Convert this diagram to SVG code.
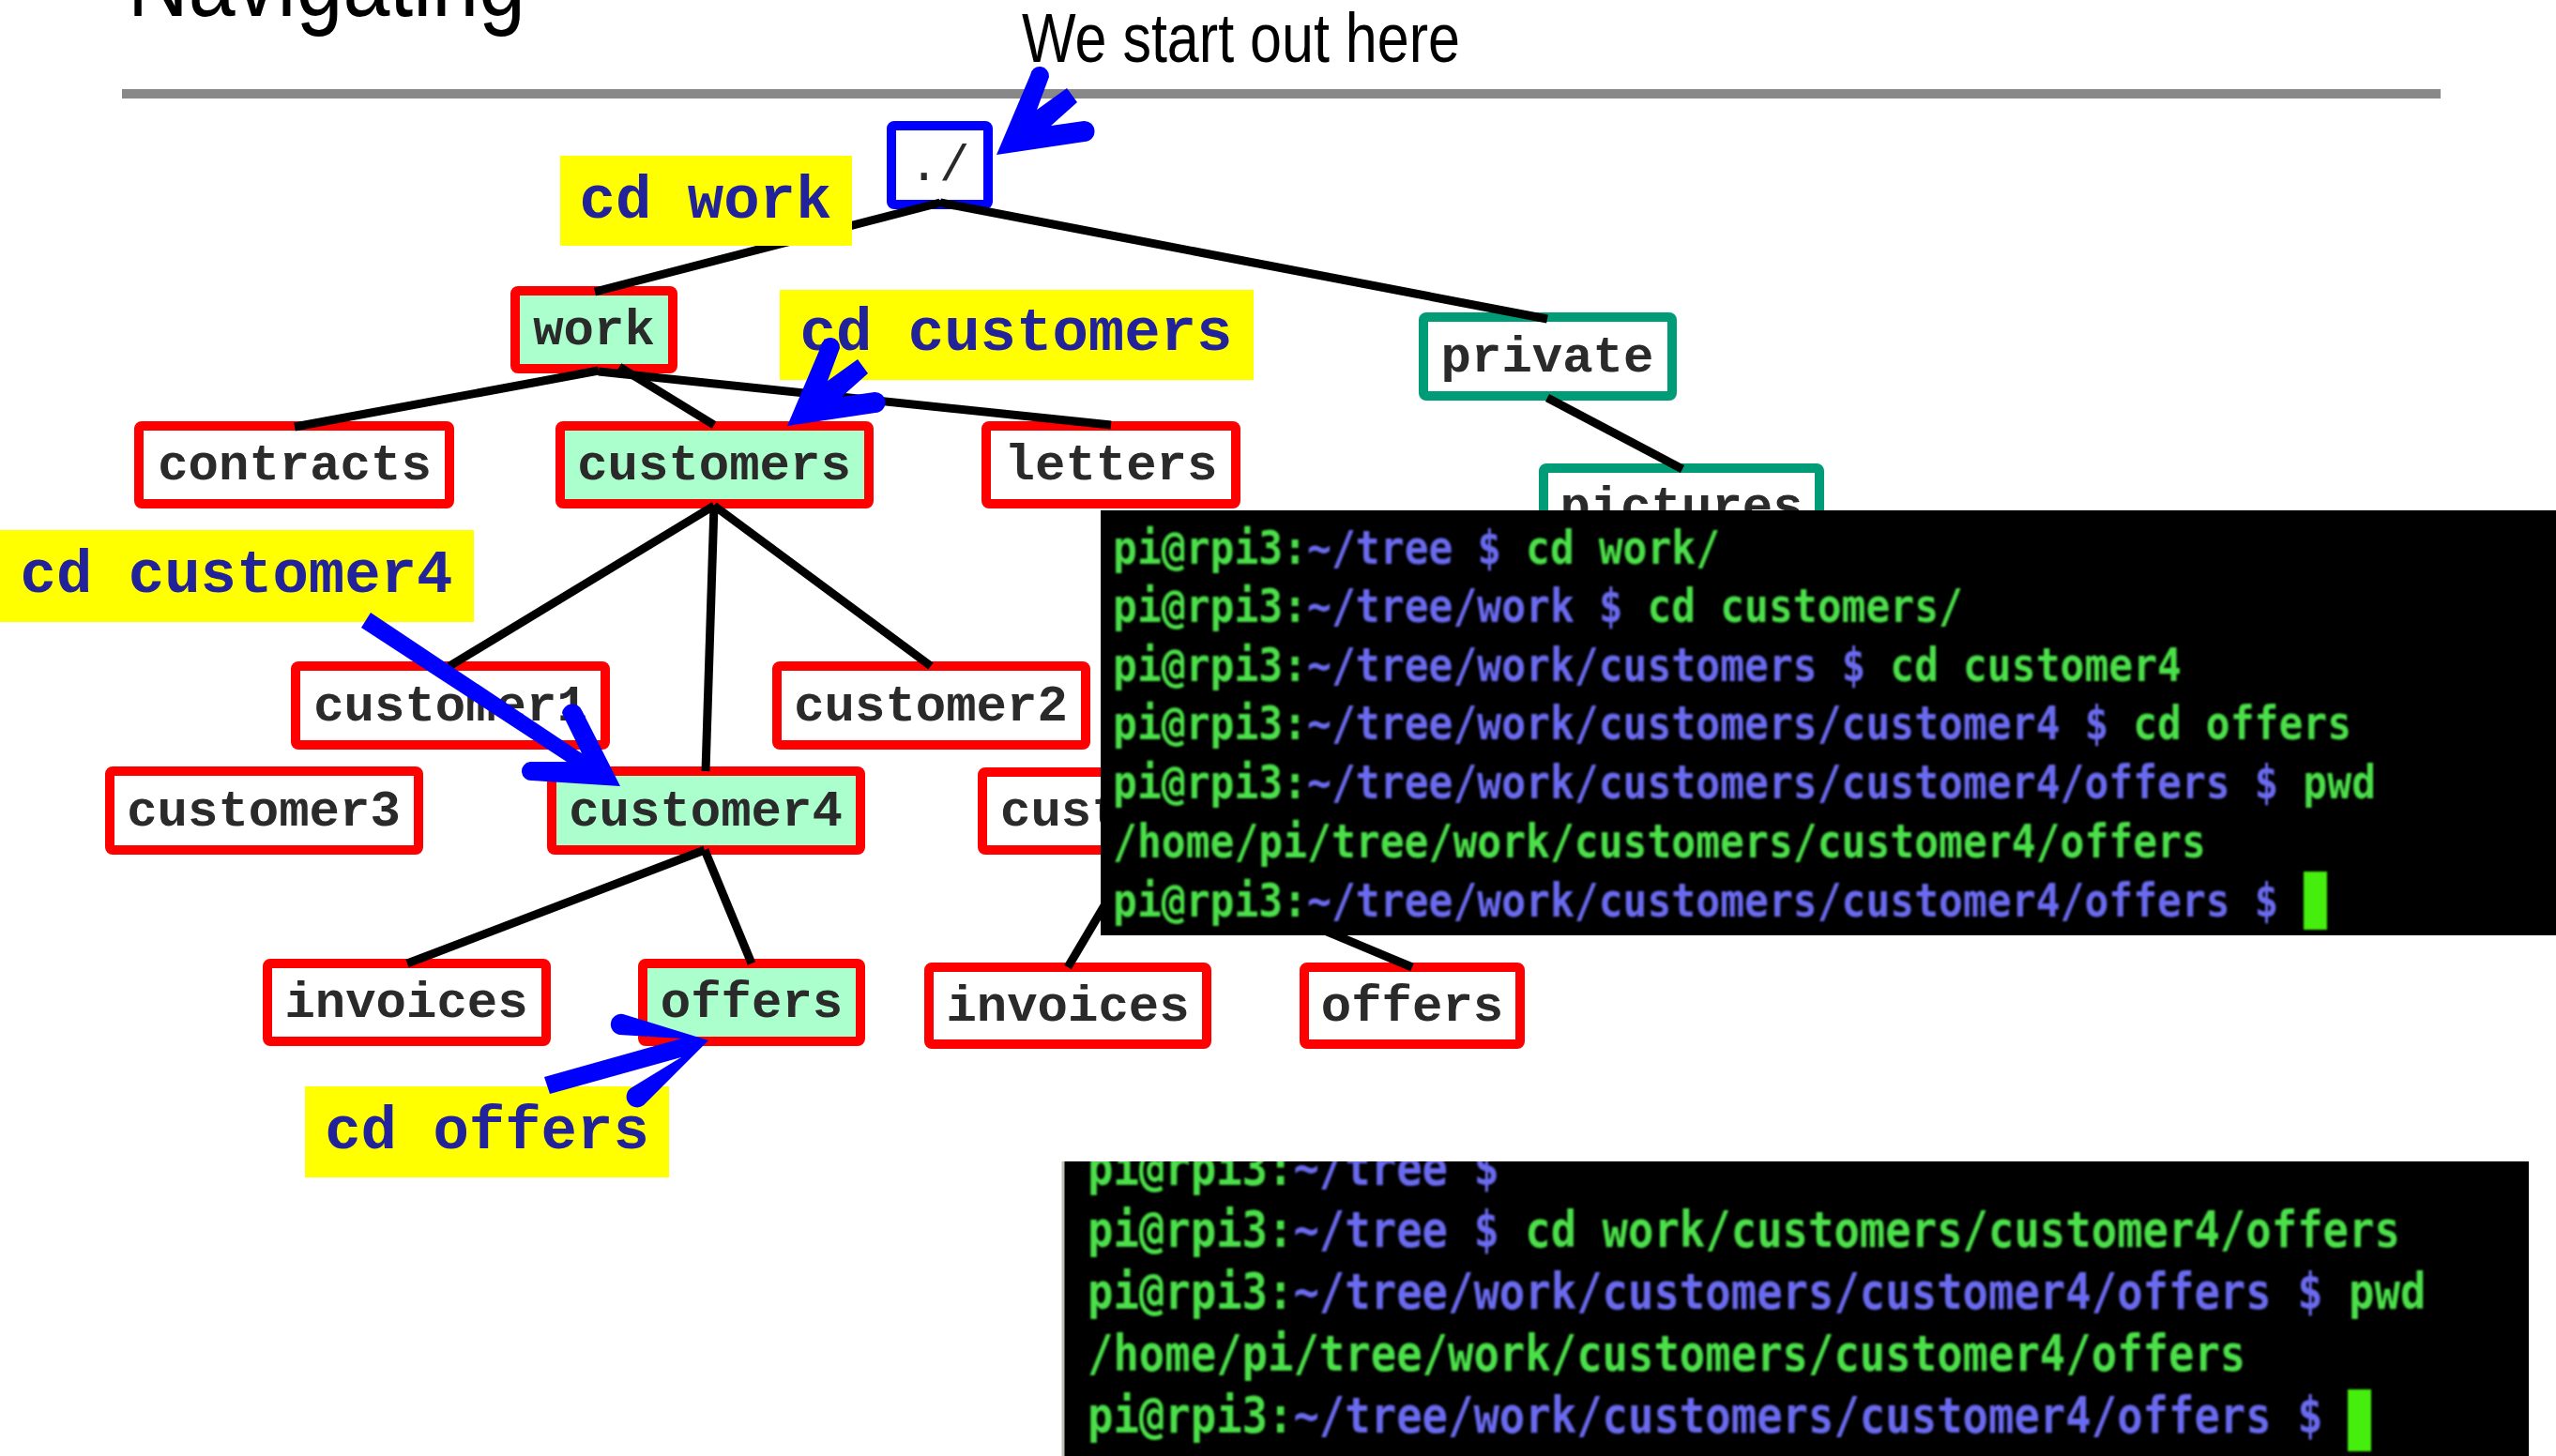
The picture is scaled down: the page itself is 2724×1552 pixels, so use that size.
<svg xmlns="http://www.w3.org/2000/svg" width="2724" height="1552" viewBox="0 0 2724 1552">
  <defs>
    <style>
      .title { font-family: "Liberation Sans", Arial, sans-serif; fill: #000; }
      .node rect { stroke-width: 10; }
      .red { fill: #ffffff; stroke: #ff0000; }
      .redsel { fill: #aaffcc; stroke: #ff0000; }
      .teal { fill: #ffffff; stroke: #009b77; }
      .root { fill: #ffffff; stroke: #0000ff; }
      .node text { font-family: "Liberation Mono", "Courier New", monospace; font-weight: bold; font-size: 54px; fill: #2a2a2a; text-anchor: middle; }
      .edge { stroke: #000; stroke-width: 9; fill: none; }
      .label rect { fill: #ffff00; }
      .label text { font-family: "Liberation Mono", "Courier New", monospace; font-weight: bold; font-size: 64px; fill: #22229a; text-anchor: middle; }
      .term text { font-family: "DejaVu Sans Mono", "Liberation Mono", monospace; font-weight: bold; white-space: pre; }
      .t1 text { font-size: 50px; }
      .t2 text { font-size: 53px; }
      .g { fill: #4ce04a; }
      .b { fill: #6b6bf0; }
    </style>
    <filter id="soft" x="-5%" y="-20%" width="110%" height="140%">
      <feGaussianBlur stdDeviation="1"/>
    </filter>
    <clipPath id="clip2">
      <rect x="1132" y="1238" width="1563" height="314"/>
    </clipPath>
    <!-- slanted hand-drawn arrow, tip at origin -->
    <path id="slantArrow" fill="#0000ff" d="M0,0 L36,-85 A10,10 0 0 1 56,-83 L43,-48 L75,-71 L86,-56 L58,-31 L93,-36 A11,11 0 0 1 94,-14 Z"/>
  </defs>

  <rect width="2724" height="1552" fill="#ffffff"/>

  <!-- heading -->
  <text class="title" x="136" y="17" font-size="105" textLength="424" lengthAdjust="spacingAndGlyphs">Navigating</text>
  <rect x="130" y="95" width="2471" height="10" fill="#888888"/>
  <text class="title" x="1089" y="66" font-size="74" textLength="467" lengthAdjust="spacingAndGlyphs">We start out here</text>

  <!-- tree nodes -->
  <g id="node-root" class="node"><rect class="root" x="950" y="134" width="103" height="84" rx="3"/><text x="1001" y="192" style="font-weight:normal">./</text></g>
  <g id="node-work" class="node"><rect class="redsel" x="549" y="310" width="168" height="83" rx="3"/><text x="633" y="367">work</text></g>
  <g id="node-private" class="node"><rect class="teal" x="1517" y="338" width="265" height="84" rx="3"/><text x="1649" y="396">private</text></g>
  <g id="node-contracts" class="node"><rect class="red" x="148" y="454" width="331" height="83" rx="3"/><text x="314" y="511">contracts</text></g>
  <g id="node-customers" class="node"><rect class="redsel" x="597" y="454" width="329" height="83" rx="3"/><text x="761" y="511">customers</text></g>
  <g id="node-letters" class="node"><rect class="red" x="1051" y="454" width="266" height="83" rx="3"/><text x="1184" y="511">letters</text></g>
  <g id="node-pictures" class="node"><rect class="teal" x="1645" y="499" width="294" height="83" rx="3"/><text x="1792" y="556">pictures</text></g>
  <g id="node-customer1" class="node"><rect class="red" x="315" y="710" width="330" height="84" rx="3"/><text x="480" y="768">customer1</text></g>
  <g id="node-customer2" class="node"><rect class="red" x="828" y="710" width="329" height="84" rx="3"/><text x="992" y="768">customer2</text></g>
  <g id="node-customer3" class="node"><rect class="red" x="117" y="822" width="329" height="84" rx="3"/><text x="281" y="880">customer3</text></g>
  <g id="node-customer4" class="node"><rect class="redsel" x="588" y="822" width="329" height="84" rx="3"/><text x="752" y="880">customer4</text></g>
  <g id="node-cust" class="node"><rect class="red" x="1047" y="823" width="329" height="83" rx="3"/><text x="1066" y="880" style="text-anchor:start">cust</text></g>
  <g id="node-invoices4" class="node"><rect class="red" x="285" y="1027" width="297" height="83" rx="3"/><text x="433" y="1084">invoices</text></g>
  <g id="node-offers4" class="node"><rect class="redsel" x="685" y="1027" width="232" height="83" rx="3"/><text x="801" y="1084">offers</text></g>
  <g id="node-invoices5" class="node"><rect class="red" x="990" y="1031" width="296" height="82" rx="3"/><text x="1138" y="1088">invoices</text></g>
  <g id="node-offers5" class="node"><rect class="red" x="1390" y="1031" width="230" height="82" rx="3"/><text x="1505" y="1088">offers</text></g>

  <!-- tree edges -->
  <g id="connectors">
    <line class="edge" x1="1002" y1="216" x2="634" y2="311"/>
    <line class="edge" x1="1002" y1="216" x2="1649" y2="340"/>
    <line class="edge" x1="638" y1="395" x2="314" y2="455"/>
    <line class="edge" x1="660" y1="391" x2="761" y2="453"/>
    <line class="edge" x1="638" y1="396" x2="1184" y2="453"/>
    <line class="edge" x1="1649" y1="424" x2="1793" y2="500"/>
    <line class="edge" x1="761" y1="539" x2="479" y2="710"/>
    <line class="edge" x1="761" y1="539" x2="752" y2="822"/>
    <line class="edge" x1="761" y1="539" x2="992" y2="710"/>
    <line class="edge" x1="751" y1="906" x2="434" y2="1027"/>
    <line class="edge" x1="751" y1="906" x2="801" y2="1027"/>
    <line class="edge" x1="1211" y1="908" x2="1138" y2="1031"/>
    <line class="edge" x1="1211" y1="908" x2="1505" y2="1031"/>
  </g>

  <!-- command labels -->
  <g id="label-cd-work" class="label"><rect x="597" y="166" width="311" height="96"/><text x="752" y="232">cd work</text></g>
  <g id="label-cd-customers" class="label"><rect x="831" y="309" width="505" height="96"/><text x="1083" y="373">cd customers</text></g>
  <g id="label-cd-customer4" class="label"><rect x="0" y="565" width="505" height="98"/><text x="252" y="631">cd customer4</text></g>
  <g id="label-cd-offers" class="label"><rect x="325" y="1158" width="388" height="97"/><text x="519" y="1224">cd offers</text></g>

  <!-- blue pointer arrows -->
  <g id="arrows" fill="#0000ff">
    <use href="#slantArrow" transform="translate(1062,165)"/>
    <use href="#slantArrow" transform="translate(839,454)"/>
    <path d="M661,838 L620,757 A11,11 0 0 0 599,760 L620,803 L395,653 L385,669 L604,812 L565,812 A10,10 0 0 0 567,832 Z"/>
    <path d="M755,1109 L664,1081 A11,11 0 0 0 660,1103 L726,1107 L580,1148 L586,1166 L726,1127 L672,1160 A11,11 0 0 0 686,1178 Z"/>
  </g>

  <!-- terminal: step by step -->
  <g id="terminal-steps" class="term t1">
    <rect x="1173" y="544" width="1551" height="453" fill="#000000"/>
    <g filter="url(#soft)">
      <g transform="translate(1186 0) scale(0.86 1)">
        <text x="0" y="601"><tspan class="g">pi@rpi3:</tspan><tspan class="b">~/tree $</tspan><tspan class="g"> cd work/</tspan></text>
        <text x="0" y="663"><tspan class="g">pi@rpi3:</tspan><tspan class="b">~/tree/work $</tspan><tspan class="g"> cd customers/</tspan></text>
        <text x="0" y="726"><tspan class="g">pi@rpi3:</tspan><tspan class="b">~/tree/work/customers $</tspan><tspan class="g"> cd customer4</tspan></text>
        <text x="0" y="788"><tspan class="g">pi@rpi3:</tspan><tspan class="b">~/tree/work/customers/customer4 $</tspan><tspan class="g"> cd offers</tspan></text>
        <text x="0" y="851"><tspan class="g">pi@rpi3:</tspan><tspan class="b">~/tree/work/customers/customer4/offers $</tspan><tspan class="g"> pwd</tspan></text>
        <text x="0" y="914" class="g">/home/pi/tree/work/customers/customer4/offers</text>
        <text x="0" y="977"><tspan class="g">pi@rpi3:</tspan><tspan class="b">~/tree/work/customers/customer4/offers $</tspan></text>
      </g>
      <rect x="2455" y="929" width="25" height="62" fill="#44ee11"/>
    </g>
  </g>

  <!-- terminal: one step -->
  <g id="terminal-direct" class="term t2">
    <rect x="1132" y="1238" width="1563" height="314" fill="#000000"/>
    <line x1="1133" y1="1238" x2="1133" y2="1552" stroke="#bdbdb5" stroke-width="3"/>
    <g clip-path="url(#clip2)">
      <g filter="url(#soft)">
        <g transform="translate(1159 0) scale(0.86 1)">
          <text x="0" y="1263"><tspan class="g">pi@rpi3:</tspan><tspan class="b">~/tree $</tspan></text>
          <text x="0" y="1329"><tspan class="g">pi@rpi3:</tspan><tspan class="b">~/tree $</tspan><tspan class="g"> cd work/customers/customer4/offers</tspan></text>
          <text x="0" y="1395"><tspan class="g">pi@rpi3:</tspan><tspan class="b">~/tree/work/customers/customer4/offers $</tspan><tspan class="g"> pwd</tspan></text>
          <text x="0" y="1461" class="g">/home/pi/tree/work/customers/customer4/offers</text>
          <text x="0" y="1527"><tspan class="g">pi@rpi3:</tspan><tspan class="b">~/tree/work/customers/customer4/offers $</tspan></text>
        </g>
        <rect x="2502" y="1481" width="25" height="66" fill="#44ee11"/>
      </g>
    </g>
  </g>
</svg>
